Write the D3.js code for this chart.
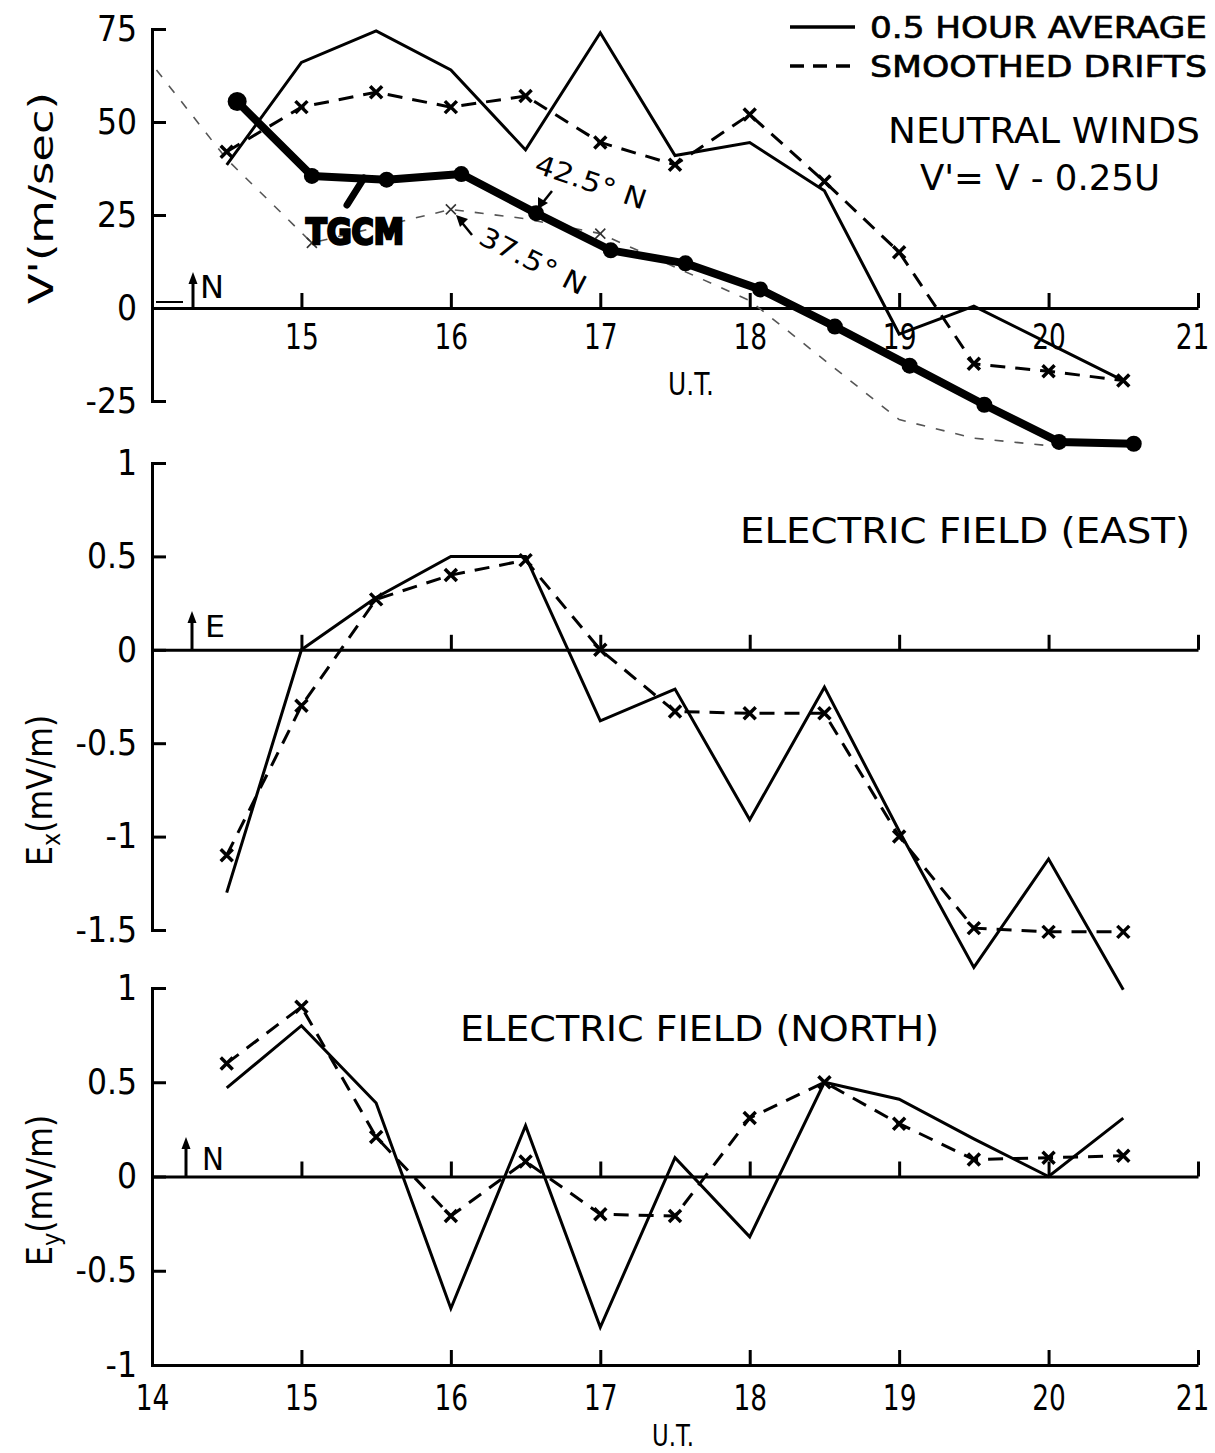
<!DOCTYPE html>
<html>
<head>
<meta charset="utf-8">
<title>Neutral winds and electric fields</title>
<script src="https://d3js.org/d3.v7.min.js"></script>
<style>
  body { margin: 0; background: #fff; }
  svg text { font-family: "Liberation Sans Narrow", "DejaVu Sans Condensed", "DejaVu Sans", sans-serif; fill: #000; }
</style>
</head>
<body>
<svg id="chart" width="1215" height="1453"></svg>
<script>
// half-hour bins, U.T.
var hours = [14.5, 15, 15.5, 16, 16.5, 17, 17.5, 18, 18.5, 19, 19.5, 20, 20.5];

// neutral winds V' (m/sec)
var windAvg   = [38.5, 66, 74.5, 64, 42.5, 74, 41, 44.5, 31.5, -7, 0.5, -9.5, -19.5];
var windDrift = [42, 54, 58, 54, 57, 44.5, 38.5, 52, 34, 15, -15, -17, -19.5];

// TGCM model curves
var tgcmHours = [14.57, 15.07, 15.57, 16.07, 16.57, 17.07, 17.57, 18.07, 18.57, 19.07, 19.57, 20.07, 20.57];
var tgcm425   = [55.5, 35.5, 34.5, 36, 25.5, 15.5, 12, 5, -5, -15.5, -26, -36, -36.5];
var tgcm375Hours = [14.03, 14.5, 15.07, 16.0, 16.5, 17.0, 17.5, 18.0, 18.5, 19.0, 19.5, 20.0];
var tgcm375      = [64, 40, 17.5, 26.5, 24, 20, 11, 2, -14, -30, -35, -37];
var tgcm375Marks = [15.07, 16.0, 17.0];

// electric field east Ex (mV/m)
var exAvg   = [-1.3, 0, 0.28, 0.5, 0.5, -0.38, -0.21, -0.91, -0.2, -0.97, -1.7, -1.12, -1.82];
var exDrift = [-1.1, -0.3, 0.27, 0.4, 0.48, 0, -0.33, -0.34, -0.34, -1.0, -1.49, -1.51, -1.51];

// electric field north Ey (mV/m)
var eyAvg   = [0.47, 0.8, 0.39, -0.7, 0.27, -0.8, 0.1, -0.32, 0.5, 0.41, 0.2, 0, 0.31];
var eyDrift = [0.6, 0.9, 0.21, -0.21, 0.08, -0.2, -0.21, 0.31, 0.5, 0.28, 0.09, 0.1, 0.11];

// tick labels
var hourTicks  = [15, 16, 17, 18, 19, 20, 21];
var hourLabels = [14, 15, 16, 17, 18, 19, 20, 21];
var windTicks  = [-25, 0, 25, 50, 75];
var exTicks    = [-1.5, -1, -0.5, 0, 0.5, 1];
var eyTicks    = [-1, -0.5, 0, 0.5, 1];

var svg = d3.select("#chart");
svg.append("rect").attr("width", 1215).attr("height", 1453).attr("fill", "#fff");

var x = d3.scaleLinear().domain([14, 21]).range([152, 1198]);
var yWind = d3.scaleLinear().domain([-25, 75]).range([401, 29]);
var yEx = d3.scaleLinear().domain([-1.5, 1]).range([930, 463]);
var yEy = d3.scaleLinear().domain([-1, 1]).range([1365, 988]);

var fmt = function(d) { return String(d); };

function styleAxis(g, size) {
    g.attr("font-family", null).attr("font-size", size);
    g.selectAll("path, line").attr("stroke", "#000").attr("stroke-width", 3);
}

function drawYAxis(scale, ticks) {
    var g = svg.append("g").attr("transform", "translate(" + x(14) + ",0)")
        .call(d3.axisLeft(scale).tickValues(ticks).tickSize(-14).tickSizeOuter(-14)
            .tickPadding(15).tickFormat(fmt));
    styleAxis(g, 35);
    return g;
}

// narrow hour labels, last one pulled in from the edge
function squeezeHours(g) {
    g.selectAll(".tick text")
        .attr("transform", function(d) { return "translate(" + (d === 21 ? -6 : 0) + ",0) scale(0.84,1)"; });
}

function drawZeroLine(scale, labels) {
    var g = svg.append("g").attr("transform", "translate(0," + scale(0) + ")")
        .call(d3.axisBottom(x).tickValues(hourTicks).tickSize(-15).tickSizeOuter(0)
            .tickPadding(16).tickFormat(labels ? fmt : ""));
    styleAxis(g, 35);
    squeezeHours(g);
    return g;
}

function series(scale, xs, ys, dashed) {
    var line = d3.line().x(function(d) { return x(d[0]); }).y(function(d) { return scale(d[1]); });
    svg.append("path").datum(d3.zip(xs, ys))
        .attr("d", line)
        .attr("fill", "none")
        .attr("stroke", "#000")
        .attr("stroke-width", 3)
        .attr("stroke-linejoin", "miter")
        .attr("stroke-dasharray", dashed ? "15,10" : null);
    if (dashed) {
        svg.selectAll(null).data(d3.zip(xs, ys)).enter().append("path")
            .attr("transform", function(d) { return "translate(" + x(d[0]) + "," + scale(d[1]) + ")"; })
            .attr("d", "M-6,-6L6,6M-6,6L6,-6")
            .attr("stroke", "#000")
            .attr("stroke-width", 3.5);
    }
}

function upArrow(px, py, len) {
    svg.append("line").attr("x1", px).attr("y1", py).attr("x2", px).attr("y2", py - len + 8)
        .attr("stroke", "#000").attr("stroke-width", 3);
    svg.append("path")
        .attr("d", "M" + (px - 4.5) + "," + (py - len + 12) + "L" + px + "," + (py - len) + "L" + (px + 4.5) + "," + (py - len + 12) + "Z")
        .attr("fill", "#000");
}

function label(txt, px, py, size, len) {
    var t = svg.append("text").attr("x", px).attr("y", py).attr("font-size", size).text(txt);
    if (len) t.attr("textLength", len).attr("lengthAdjust", "spacingAndGlyphs");
    return t;
}

// ---------- top panel: neutral winds ----------
drawYAxis(yWind, windTicks);
drawZeroLine(yWind, true);

// small mark near the origin
svg.append("line").attr("x1", 156).attr("y1", 302).attr("x2", 183).attr("y2", 302)
    .attr("stroke", "#000").attr("stroke-width", 2);
upArrow(193, 308, 36);
label("N", 200, 298, 32, 24);

// TGCM 37.5 N (thin dashed)
var thin = d3.line().x(function(d) { return x(d[0]); }).y(function(d) { return yWind(d[1]); });
svg.append("path").datum(d3.zip(tgcm375Hours, tgcm375))
    .attr("d", thin).attr("fill", "none")
    .attr("stroke", "#555").attr("stroke-width", 1.6).attr("stroke-dasharray", "9,11");
svg.selectAll(null).data(tgcm375Marks).enter().append("path")
    .attr("transform", function(h) {
        return "translate(" + x(h) + "," + yWind(tgcm375[tgcm375Hours.indexOf(h)]) + ")";
    })
    .attr("d", "M-5,-5L5,5M-5,5L5,-5")
    .attr("stroke", "#333").attr("stroke-width", 1.6);

// TGCM 42.5 N (thick with dots)
svg.append("path").datum(d3.zip(tgcmHours, tgcm425))
    .attr("d", thin).attr("fill", "none")
    .attr("stroke", "#000").attr("stroke-width", 8).attr("stroke-linejoin", "round");
svg.selectAll(null).data(d3.zip(tgcmHours, tgcm425)).enter().append("circle")
    .attr("cx", function(d) { return x(d[0]); })
    .attr("cy", function(d) { return yWind(d[1]); })
    .attr("r", function(d, i) { return i === 0 ? 9.5 : 8; })
    .attr("fill", "#000");

series(yWind, hours, windAvg, false);
series(yWind, hours, windDrift, true);

// TGCM label and pointer
svg.append("line").attr("x1", 347).attr("y1", 205).attr("x2", 364).attr("y2", 178)
    .attr("stroke", "#000").attr("stroke-width", 7).attr("stroke-linecap", "round");
label("TGCM", 306, 244, 36, 98).attr("font-weight", "bold")
    .attr("stroke", "#000").attr("stroke-width", 2.5);

// latitude labels with arrows
svg.append("text").attr("font-size", 27)
    .attr("transform", "translate(533,172) rotate(19)")
    .attr("textLength", 116).attr("lengthAdjust", "spacingAndGlyphs")
    .text("42.5° N");
svg.append("path").attr("d", "M552,191L540,206").attr("stroke", "#000").attr("stroke-width", 2.5);
svg.append("path").attr("d", "M538,209L538,197L548,203Z").attr("fill", "#000");

svg.append("text").attr("font-size", 27)
    .attr("transform", "translate(477,243) rotate(27)")
    .attr("textLength", 116).attr("lengthAdjust", "spacingAndGlyphs")
    .text("37.5° N");
svg.append("path").attr("d", "M472,235L459,219").attr("stroke", "#000").attr("stroke-width", 2.5);
svg.append("path").attr("d", "M456,215L468,219L460,227Z").attr("fill", "#000");

// legend
svg.append("line").attr("x1", 790).attr("y1", 27).attr("x2", 855).attr("y2", 27)
    .attr("stroke", "#000").attr("stroke-width", 3.5);
svg.append("line").attr("x1", 790).attr("y1", 66).attr("x2", 855).attr("y2", 66)
    .attr("stroke", "#000").attr("stroke-width", 3.5).attr("stroke-dasharray", "14,9");
label("0.5 HOUR AVERAGE", 870, 38, 30, 337).attr("stroke", "#000").attr("stroke-width", 0.6);
label("SMOOTHED DRIFTS", 870, 77, 30, 337).attr("stroke", "#000").attr("stroke-width", 0.6);
label("NEUTRAL WINDS", 888, 143, 35, 312);
label("V'= V - 0.25U", 920, 190, 35, 240);
label("U.T.", 668, 395, 32, 46);

svg.append("text").attr("font-size", 33).attr("text-anchor", "middle")
    .attr("transform", "translate(53,198) rotate(-90)")
    .attr("textLength", 212).attr("lengthAdjust", "spacingAndGlyphs")
    .text("V'(m/sec)");

// ---------- middle panel: electric field east ----------
drawYAxis(yEx, exTicks);
drawZeroLine(yEx, false);
upArrow(192, 649, 38);
label("E", 205, 637, 30, 20);
series(yEx, hours, exAvg, false);
series(yEx, hours, exDrift, true);
label("ELECTRIC FIELD (EAST)", 740, 543, 36, 450);

var exLab = svg.append("text").attr("font-size", 35)
    .attr("transform", "translate(52,866) rotate(-90)");
exLab.append("tspan").text("E");
exLab.append("tspan").attr("font-size", 25).attr("dy", 8).text("x");
exLab.append("tspan").attr("dy", -8).text("(mV/m)");

// ---------- bottom panel: electric field north ----------
drawYAxis(yEy, eyTicks);
drawZeroLine(yEy, false);
var bottom = svg.append("g").attr("transform", "translate(0," + yEy(-1) + ")")
    .call(d3.axisBottom(x).tickValues(hourLabels).tickSize(-15).tickSizeOuter(0)
        .tickPadding(20).tickFormat(fmt));
styleAxis(bottom, 35);
squeezeHours(bottom);
label("U.T.", 652, 1446, 30, 42);

upArrow(186, 1177, 40);
label("N", 202, 1170, 32, 22);
series(yEy, hours, eyAvg, false);
series(yEy, hours, eyDrift, true);
label("ELECTRIC FIELD (NORTH)", 460, 1041, 36, 479);

var eyLab = svg.append("text").attr("font-size", 35)
    .attr("transform", "translate(52,1266) rotate(-90)");
eyLab.append("tspan").text("E");
eyLab.append("tspan").attr("font-size", 25).attr("dy", 8).text("y");
eyLab.append("tspan").attr("dy", -8).text("(mV/m)");
</script>
</body>
</html>
